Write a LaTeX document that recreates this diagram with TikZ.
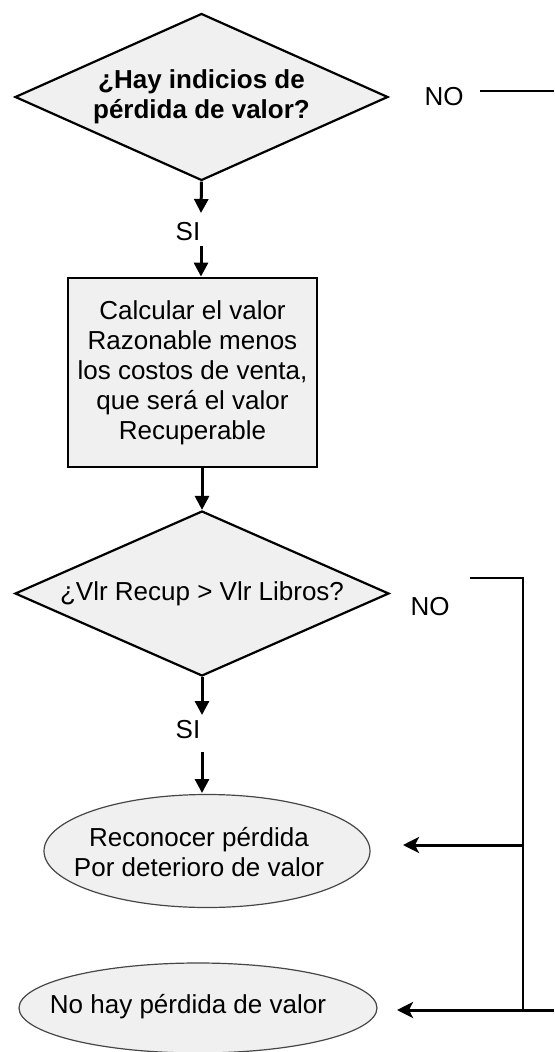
\documentclass[tikz,border=0pt]{standalone}
\usepackage{fontspec}
\setmainfont{Liberation Sans}
\usetikzlibrary{shapes.geometric,arrows.meta}
\definecolor{boxfill}{RGB}{240,240,240}
\definecolor{ellline}{RGB}{70,70,70}
\begin{document}
\begin{tikzpicture}[x=0.5pt,y=-0.5pt,
  txt/.style={font=\fontsize{13}{15}\selectfont, align=center, inner sep=0pt},
  decision/.style={diamond, draw=black, line width=1.1pt, fill=boxfill, inner sep=0pt, align=center, font=\fontsize{13}{15}\selectfont},
  process/.style={rectangle, draw=black, line width=1.4pt, fill=boxfill, inner sep=0pt, align=center, font=\fontsize{13}{15}\selectfont},
  terminal/.style={ellipse, draw=ellline, line width=0.6pt, fill=boxfill, inner sep=0pt},
  conn/.style={line width=1.5pt, -{Triangle[length=7pt,width=7pt]}},
  branch/.style={line width=1.5pt, -{Stealth[length=8pt,width=8pt,inset=2pt]}},
  thinline/.style={line width=1.2pt},
]
\useasboundingbox (0,0) rectangle (554,1052);

% first decision
\node[decision, minimum width=186.5pt, minimum height=83.5pt, aspect=2.23,
      font=\bfseries\fontsize{13}{15}\selectfont] (d1) at (201.5,97) {¿Hay indicios de\\pérdida de valor?};
\node[txt] (no1) at (444,97) {NO};
\coordinate (no1a) at (480,91);
\coordinate (no1b) at (554,91);
\draw[thinline] (no1a) -- (no1b);

\coordinate (a1) at (201,213);
\draw[conn] (d1.south) -- (a1);
\node[txt] (si1) at (188,232) {SI};

% process box
\node[process, minimum width=124.5pt, minimum height=94.5pt] (box) at (192.5,372.5)
  {Calcular el valor\\Razonable menos\\los costos de venta,\\que será el valor\\Recuperable};
\coordinate (b1) at (201,246);
\draw[conn] (b1) -- (b1 |- box.north);

% second decision
\node[decision, minimum width=187pt, minimum height=82.5pt, aspect=2.27] (d2) at (202,593.5) {¿Vlr Recup > Vlr Libros?};
\draw[conn] (box.south -| d2.north) -- (d2.north);
\node[txt] (no2) at (430,607) {NO};

\coordinate (a2) at (202,715);
\draw[conn] (d2.south) -- (a2);
\node[txt] (si2) at (188,730) {SI};
\coordinate (b2) at (202,752);
\coordinate (b2e) at (202,793);
\draw[conn] (b2) -- (b2e);

% terminals
\node[terminal, minimum width=163pt, minimum height=56.5pt] (e1) at (207,851) {};
\node[txt] (t1) at (199,852) {Reconocer pérdida\\Por deterioro de valor};
\node[terminal, minimum width=179pt, minimum height=45pt] (e2) at (198,1008) {};
\node[txt] (t2) at (188,1007) {No hay pérdida de valor};

% NO bracket
\coordinate (c1) at (470,578);
\coordinate (c2) at (523,578);
\coordinate (c3) at (523,1010);
\coordinate (c4) at (554,1010);
\coordinate (tip1) at (403,845);
\coordinate (tip2) at (397,1010);
\draw[thinline] (c1) -- (c2) -- (c3);
\draw[branch] (c2 |- tip1) -- (tip1);
\draw[branch] (c4) -- (tip2);
\end{tikzpicture}
\end{document}
